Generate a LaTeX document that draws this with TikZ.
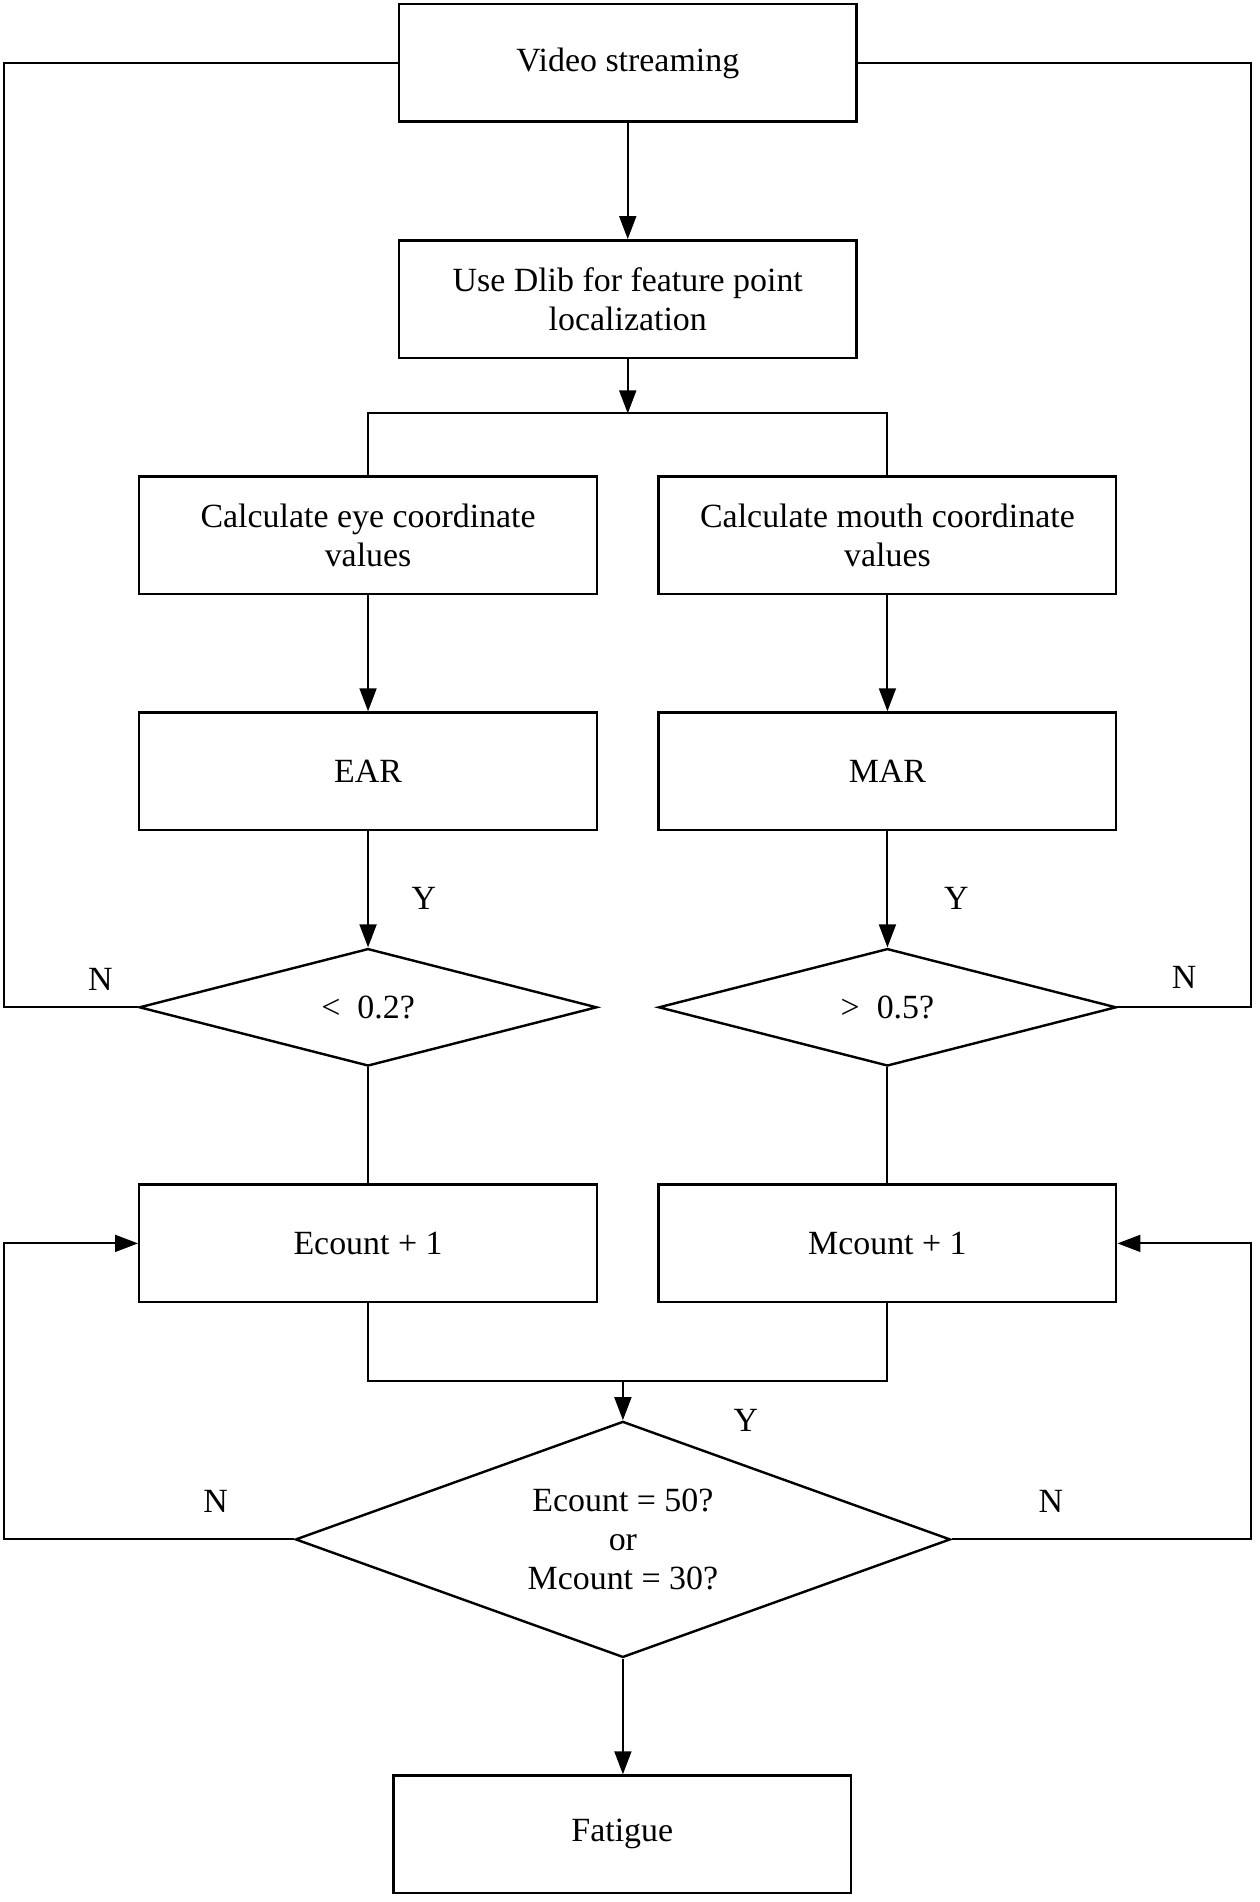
\documentclass[tikz,border=0pt]{standalone}
\usepackage{fontspec}
\setmainfont{Liberation Serif}
\usetikzlibrary{shapes.geometric,arrows.meta}
\begin{document}
\begin{tikzpicture}[x=1pt,y=-1pt,
  font=\fontsize{28}{32}\selectfont,
  box/.style={draw,line width=2pt,minimum width=378pt,minimum height=97pt,align=center,inner sep=0pt},
  dia/.style={draw,diamond,line width=2pt,inner sep=0pt},
  conn/.style={line width=1.6pt},
  arr/.style={conn,-{Triangle[length=19pt,width=14pt]}},
  lbl/.style={inner sep=0pt}]
\useasboundingbox (0,0) rectangle (1040,1571);
\node[box] (v) at (518.5,52) {Video streaming};
\node[box] (dl) at (518.5,247) {Use Dlib for feature point\\localization};
\node[box] (eye) at (304,442) {Calculate eye coordinate\\values};
\node[box] (mouth) at (733,442) {Calculate mouth coordinate\\values};
\node[box] (ear) at (304,637) {EAR};
\node[box] (mar) at (733,637) {MAR};
\node[dia,minimum width=378pt,minimum height=97pt] (d1) at (304,832) {};
\node[lbl] (t1) at (d1) {<\ \ 0.2?};
\node[dia,minimum width=378pt,minimum height=97pt] (d2) at (733,832) {};
\node[lbl] (t2) at (d2) {>\ \ 0.5?};
\node[box] (ec) at (304,1027) {Ecount + 1};
\node[box] (mc) at (733,1027) {Mcount + 1};
\node[dia,minimum width=541pt,minimum height=195pt] (d3) at (514.5,1271.5) {};
\node[lbl,align=center] (t3) at (d3) {Ecount = 50?\\or\\Mcount = 30?};
\node[box] (fat) at (514,1515) {Fatigue};
\coordinate (L) at (3,0);
\coordinate (R) at (1033,0);
\coordinate (split) at (518.5,341.5);
\coordinate (merge) at (514.5,1140.5);
% labels
\node[lbl] (y1) at (350,742) {Y};
\node[lbl] (y2) at (790,742) {Y};
\node[lbl] (n1) at (83,809) {N};
\node[lbl] (n2) at (978,807) {N};
\node[lbl] (y3) at (616,1173) {Y};
\node[lbl] (n3) at (178,1240) {N};
\node[lbl] (n4) at (868,1240) {N};
% connectors
\draw[arr] (v) -- (dl);
\draw[arr] (dl.south) -- (split);
\draw[conn] (eye.north) |- (split) -| (mouth.north);
\draw[arr] (eye) -- (ear);
\draw[arr] (mouth) -- (mar);
\draw[arr] (ear) -- (d1.north);
\draw[arr] (mar) -- (d2.north);
\draw[conn] (d1.west) -- (d1.west -| L) |- (v.west);
\draw[conn] (d2.east) -- (d2.east -| R) |- (v.east);
\draw[conn] (d1.south) -- (ec.north);
\draw[conn] (d2.south) -- (mc.north);
\draw[conn] (ec.south) |- (merge) -| (mc.south);
\draw[arr] (merge) -- (d3.north);
\draw[arr] (d3.south) -- (d3.south |- fat.north);
\draw[arr] (d3.west) -- (d3.west -| L) |- (ec.west);
\draw[arr] (d3.east) -- (d3.east -| R) |- (mc.east);
\end{tikzpicture}
\end{document}
